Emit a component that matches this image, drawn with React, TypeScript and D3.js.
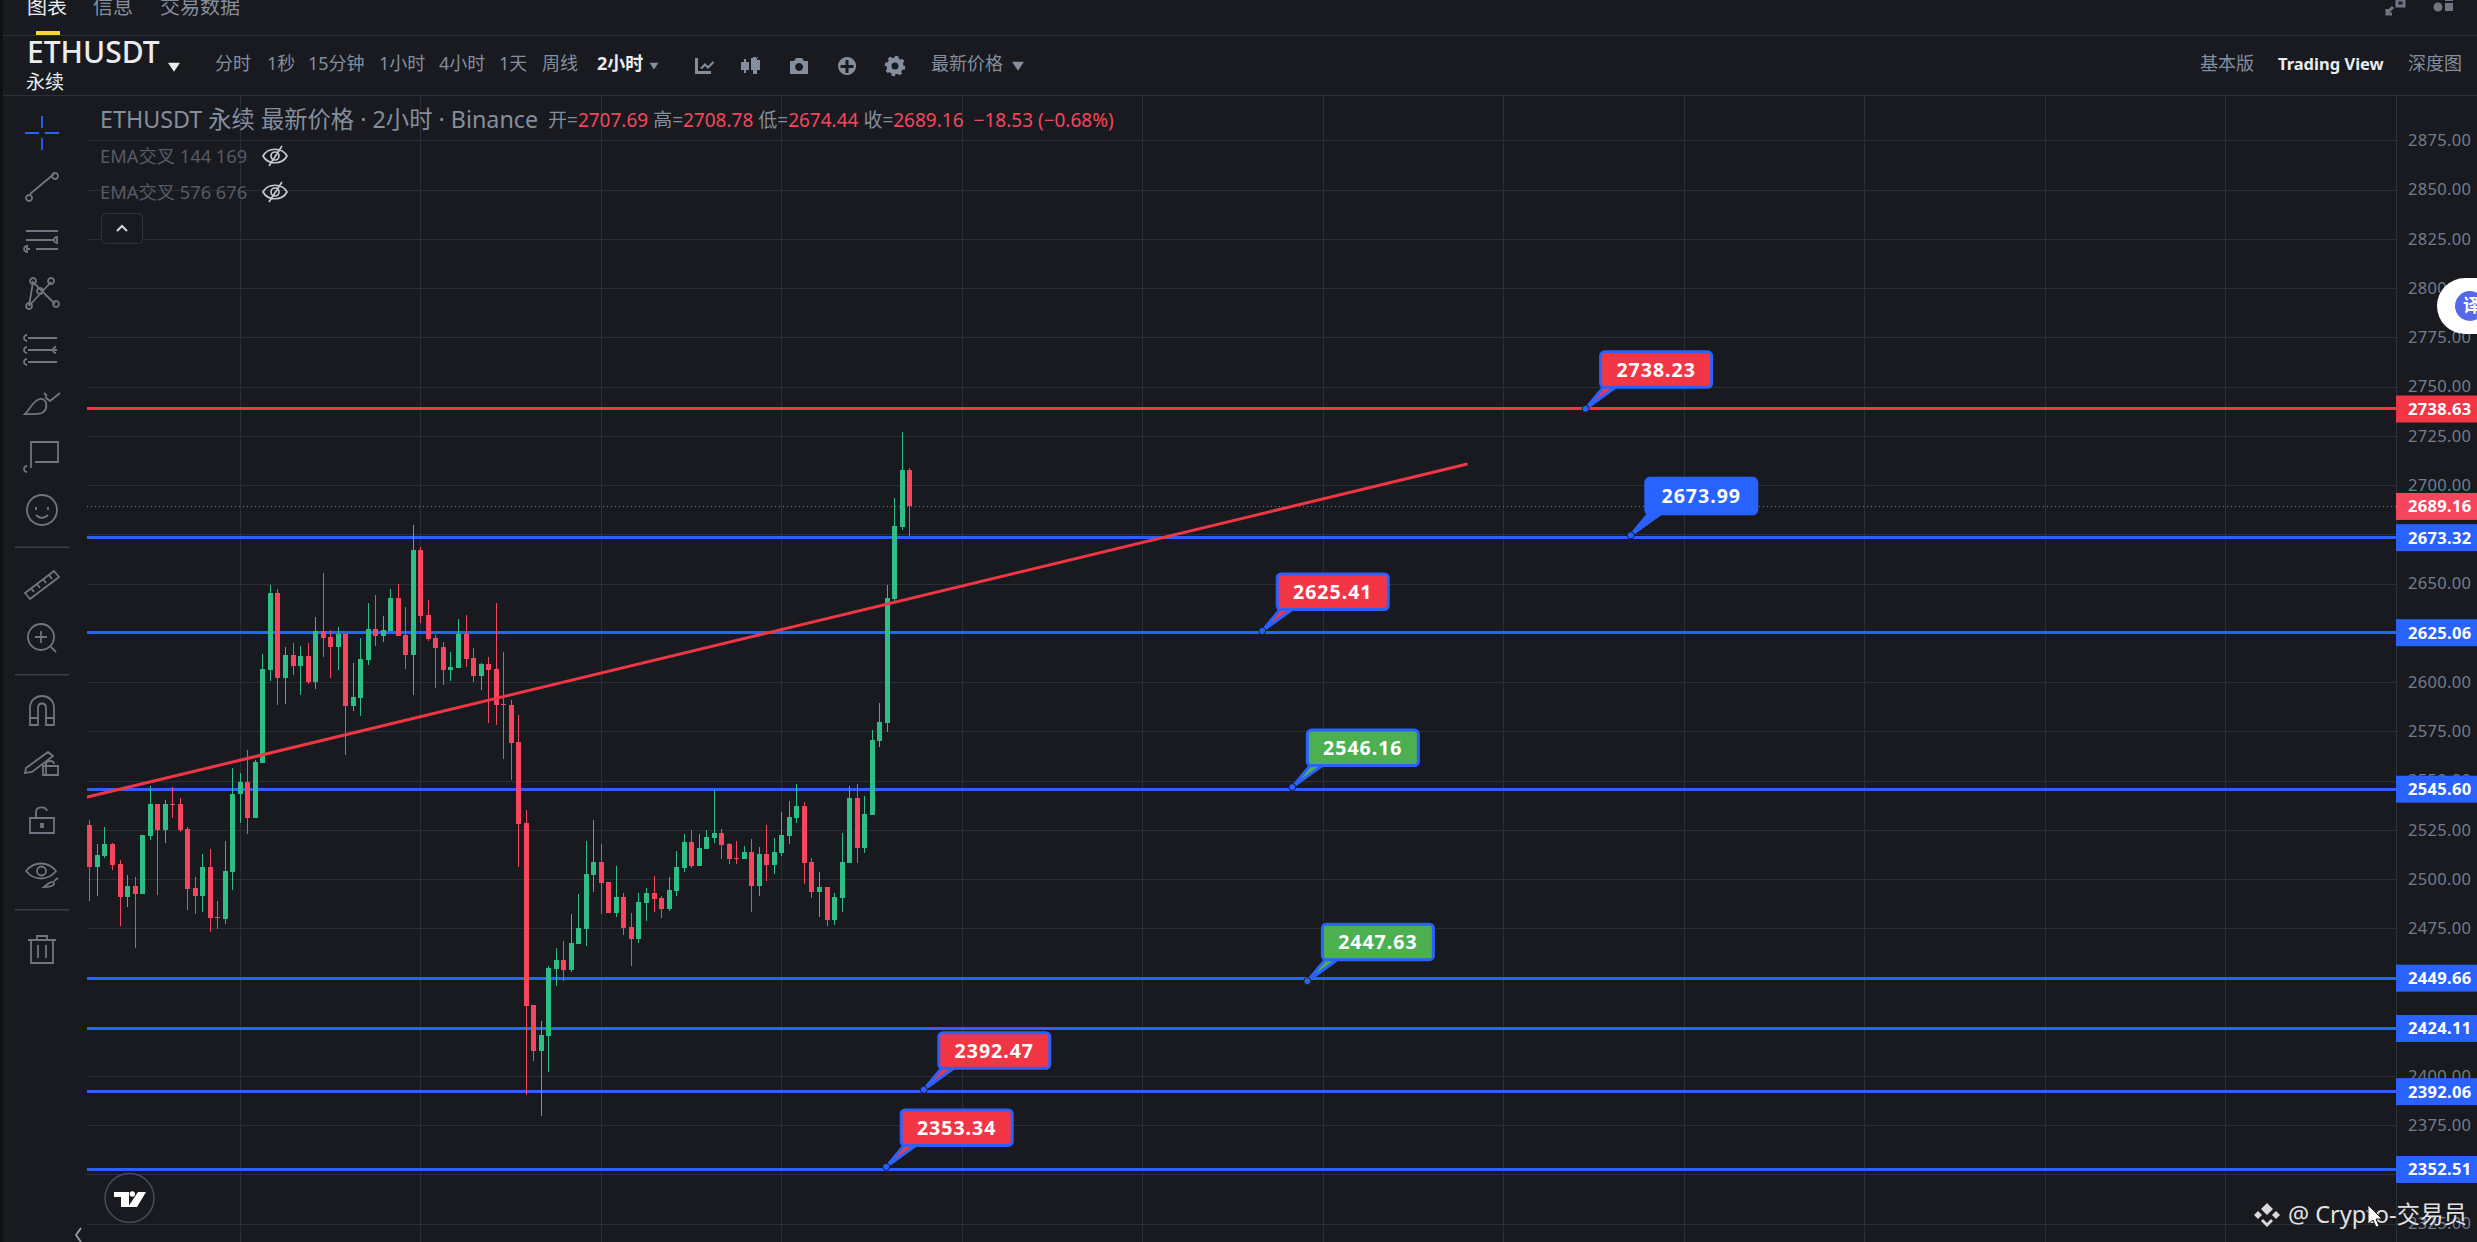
import { useRef, useEffect } from "react";
import { select, scaleLinear, axisRight, line } from "d3";

const WIDTH = 2477;
const HEIGHT = 1242;

// candles
const opens = [
  2527.42, 2506.27, 2511.68, 2517.77, 2507.62, 2491.04, 2496.45, 2492.56, 2522.01, 2538.08,
  2525.05, 2538.08, 2538.08, 2525.39, 2495.44, 2491.54, 2506.1, 2480.71, 2479.87, 2503.73,
  2543.33, 2549.25, 2531.14, 2559.07, 2606.28, 2645.2, 2602.22, 2613.73, 2608.31, 2613.22,
  2600.19, 2625.91, 2622.87, 2617.96, 2624.39, 2588.01, 2592.07, 2611.36, 2626.93, 2623.54,
  2626.08, 2642.67, 2623.88, 2613.9, 2667.04, 2634.03, 2622.36, 2617.79, 2606.28, 2607.3,
  2624.39, 2612.21, 2603.24, 2609.16, 2606.62, 2588.85, 2588.34, 2569.56, 2528.43, 2436.03,
  2412.85, 2420.47, 2454.31, 2458.88, 2453.8, 2467.17, 2474.62, 2502.03, 2508.63, 2498.48,
  2482.74, 2490.87, 2475.63, 2469.54, 2487.99, 2492.9, 2490.36, 2484.77, 2493.91, 2505.76,
  2518.79, 2506.6, 2515.4, 2520.82, 2523.36, 2517.77, 2510.67, 2510.16, 2513.71, 2496.45,
  2512.7, 2507.11, 2513.2, 2521.83, 2530.97, 2537.06, 2508.63, 2493.4, 2495.94, 2479.19,
  2490.36, 2508.13, 2541.13, 2515.74, 2532.5, 2570.07, 2579.38, 2642.17, 2678.72, 2707.69,
];
const closes = [
  2506.27, 2512.19, 2517.77, 2507.11, 2491.04, 2496.45, 2492.56, 2522.34, 2538.08, 2525.05,
  2538.08, 2537.57, 2525.05, 2495.1, 2491.54, 2506.1, 2480.37, 2480.21, 2504.07, 2543.16,
  2549.25, 2531.14, 2559.41, 2606.62, 2645.2, 2602.22, 2613.73, 2608.31, 2613.22, 2600.19,
  2625.91, 2622.53, 2617.96, 2624.39, 2588.01, 2592.41, 2611.7, 2626.93, 2623.54, 2626.42,
  2642.67, 2623.54, 2613.9, 2667.04, 2633.7, 2622.02, 2617.45, 2606.28, 2607.64, 2624.39,
  2611.87, 2603.24, 2609.16, 2606.28, 2588.51, 2588.34, 2569.22, 2528.1, 2435.7, 2412.85,
  2420.8, 2454.82, 2458.88, 2453.8, 2467.51, 2475.13, 2502.54, 2508.63, 2498.14, 2482.91,
  2490.87, 2475.13, 2469.54, 2488.33, 2492.9, 2489.85, 2484.77, 2494.42, 2506.1, 2518.79,
  2506.6, 2515.74, 2521.33, 2523.36, 2517.26, 2510.16, 2510.16, 2513.71, 2496.45, 2512.7,
  2507.11, 2513.71, 2522.34, 2531.48, 2537.06, 2508.13, 2493.4, 2495.94, 2479.19, 2490.87,
  2508.63, 2541.13, 2515.74, 2533.0, 2570.57, 2579.72, 2642.67, 2679.23, 2707.66, 2689.16,
];
const highs = [
  2529.96, 2517.77, 2526.41, 2518.28, 2509.65, 2502.04, 2501.02, 2522.34, 2547.22, 2538.08,
  2540.11, 2546.71, 2541.13, 2526.41, 2501.02, 2512.7, 2515.24, 2488.84, 2519.3, 2556.36,
  2553.82, 2565.5, 2560.42, 2614.24, 2649.27, 2647.24, 2617.79, 2619.82, 2618.3, 2619.82,
  2633.02, 2655.36, 2626.42, 2627.94, 2624.39, 2609.67, 2622.36, 2640.13, 2644.19, 2633.53,
  2647.24, 2649.77, 2638.1, 2679.73, 2668.56, 2641.65, 2623.88, 2620.33, 2615.25, 2632.01,
  2634.04, 2617.28, 2609.67, 2612.71, 2640.13, 2615.08, 2590.88, 2583.26, 2535.03, 2436.03,
  2427.91, 2455.83, 2464.97, 2468.53, 2482.23, 2492.39, 2519.3, 2529.96, 2517.77, 2498.48,
  2506.6, 2492.9, 2482.74, 2492.9, 2495.43, 2501.53, 2491.37, 2501.02, 2514.22, 2522.85,
  2524.88, 2522.85, 2524.88, 2545.19, 2525.39, 2518.28, 2519.3, 2516.76, 2520.31, 2516.25,
  2527.42, 2520.82, 2534.02, 2539.6, 2548.23, 2539.1, 2510.67, 2503.56, 2495.94, 2492.9,
  2523.36, 2547.22, 2548.23, 2542.14, 2575.65, 2589.37, 2649.27, 2693.44, 2726.95, 2708.78,
];
const lows = [
  2489.01, 2491.54, 2510.67, 2504.57, 2476.32, 2485.96, 2465.14, 2492.56, 2519.97, 2492.05,
  2518.45, 2531.14, 2524.04, 2484.44, 2482.41, 2483.42, 2473.27, 2474.79, 2477.33, 2494.59,
  2528.61, 2523.02, 2531.14, 2559.07, 2600.7, 2588.51, 2589.02, 2603.74, 2593.59, 2599.17,
  2596.64, 2612.88, 2602.22, 2606.28, 2563.13, 2585.47, 2582.93, 2608.82, 2618.47, 2620.5,
  2626.08, 2623.54, 2606.79, 2593.59, 2630.14, 2621.01, 2597.14, 2598.67, 2600.7, 2607.3,
  2607.81, 2600.19, 2596.13, 2579.37, 2578.36, 2560.59, 2550.43, 2506.26, 2390.51, 2407.77,
  2379.85, 2402.19, 2445.85, 2448.39, 2452.96, 2467.17, 2466.16, 2493.57, 2482.4, 2482.91,
  2480.88, 2471.74, 2456.0, 2467.68, 2478.85, 2483.42, 2480.37, 2483.93, 2491.54, 2503.73,
  2505.76, 2506.6, 2515.4, 2518.28, 2510.33, 2507.79, 2507.79, 2510.16, 2483.42, 2491.54,
  2499.16, 2502.71, 2511.85, 2517.94, 2528.6, 2497.63, 2490.53, 2480.88, 2476.31, 2476.82,
  2483.42, 2508.13, 2508.3, 2513.37, 2532.5, 2567.2, 2574.81, 2641.32, 2677.2, 2674.44,
];

const priceTicks = [
  2875, 2850, 2825, 2800, 2775, 2750, 2725, 2700, 2675, 2650, 2625, 2600, 2575, 2550, 2525, 2500,
  2475, 2450, 2425, 2400, 2375, 2350, 2325,
];
const hiddenTickLabels = [2675, 2625, 2450, 2425, 2350];
const timeGridBars = [20, 44, 68, 92, 116, 140, 164, 188, 212, 236, 260, 284];

// horizontal levels drawn on the chart
const blueLevels = [2673.32, 2625.06, 2545.6, 2449.66, 2424.11, 2392.06, 2352.51];
const redLevel = 2738.63;
const lastPrice = 2689.16;

// trend line: bar index / price at both ends
const trendBars = [-0.35, 183];
const trendPrices = [2541.6, 2710.55];

// callouts
const calloutValues = [2738.23, 2673.99, 2625.41, 2546.16, 2447.63, 2392.47, 2353.34];
const calloutBars = [199, 205, 156, 160, 162, 111, 106];
const calloutKinds = ["red", "blue", "red", "green", "green", "red", "red"];

const intervalLabels = ["分时", "1秒", "15分钟", "1小时", "4小时", "1天", "周线"];
const intervalX = [215, 267, 308, 379, 439, 499, 542];

const ohlcLabels = ["开=", " 高=", " 低=", " 收="];
const ohlcValues = ["2707.69", "2708.78", "2674.44", "2689.16"];

const BG = "#181a20";
const GRID = "#2a2e35";
const GREEN = "#2ebd85";
const RED = "#f6465d";
const LINE_RED = "#f23645";
const BLUE = "#2962ff";
const GREY = "#848e9c";
const ICON = "#6f7681";
const FONT = "'Noto Sans', 'Noto Sans CJK SC', sans-serif";

const PLOT_LEFT = 87;
const PLOT_RIGHT = 2396;
const PLOT_TOP = 95;

// sidebar tool icons, each around 0,0
const sidebarIcons = [
  { y: 133, d: "M-17 0H-3M3 0H17M0 -17V-5M0 5V17", stroke: BLUE },
  { y: 184, d: "M-12 10L12 -10M-13 11a3 3 0 1 0 .1 0M13 -11a3 3 0 1 0 .1 0" },
  { y: 240, d: "M-16 -9H16M-16 0H12M-16 9H-12M-6 9H16M15 -3a3 3 0 1 0 .1 6zM-15 6a3 3 0 1 0 .1 6z" },
  { y: 292, d: "M-13 14L-9 -10L13 12M9 -10L-13 14M-9 -14a3 3 0 1 0 .1 0M9 -14a3 3 0 1 0 .1 0M-13 11a3 3 0 1 0 .1 0M14 9a3 3 0 1 0 .1 0M-2 -4a3 3 0 1 0 .1 0" },
  { y: 350, d: "M-14 -12H15M-14 0H15M-14 12H15M-15 -15a3 3 0 1 0 .1 6M-15 -3a3 3 0 1 0 .1 6M-15 9a3 3 0 1 0 .1 6M14 -3a3 3 0 1 0 .1 6" },
  { y: 401, d: "M-17 13C-12 9 -10 0 -2 -2C6 -3 6 9 0 12C-6 14 -12 13 -17 13zM3 -4L8 0L18 -8M2 -8L5 -5" },
  { y: 456, d: "M-11 12V-14H16V6H-7M-15 10a3 3 0 1 0 .1 6" },
  { y: 510, d: "M-15 0a15 15 0 1 0 30 0a15 15 0 1 0 -30 0M-6 -3v3M6 -3v3M-6 5C-2 9 2 9 6 5" },
  { y: 584, d: "M-17 9L12 -13L17 -7L-12 15zM-11 4l3 4M-5 0l3 4M1 -5l3 4M7 -9l3 4" },
  { y: 637, d: "M-14 0a13 13 0 1 0 26 0a13 13 0 1 0 -26 0M-7 0H5M-1 -6V6M9 10L14 15" },
  { y: 710, d: "M-12 15V-2C-12 -18 12 -18 12 -2V15H4V-2C4 -8 -4 -8 -4 -2V15zM-12 8H-4M4 8H12" },
  { y: 760, d: "M-16 8L6 -8L11 -4L-10 12L-17 13zM4 14V4C4 0 12 0 12 4M1 6H16V15H1z" },
  { y: 820, d: "M-12 -2H12V13H-12zM-6 -2V-8C-6 -14 4 -14 5 -9M-1 4h2v3h-2z" },
  { y: 872, d: "M-16 -1C-8 -11 6 -11 14 -1C6 9 -8 9 -16 -1zM-5 -1a4.5 4.5 0 1 0 9 0a4.5 4.5 0 1 0 -9 0M2 15C6 12 8 9 11 10C14 12 11 15 2 15zM12 9L16 6" },
  { y: 950, d: "M-14 -10H14M-5 -10V-14H5V-10M-11 -10V13H11V-10M-4 -5V8M4 -5V8" },
];
const sidebarSeparators = [546.5, 674, 909];

export default function App() {
  const ref = useRef<SVGSVGElement | null>(null);

  useEffect(() => {
    const svg = select(ref.current!);
    svg.selectAll("*").remove();

    // scales
    const xScale = scaleLinear().domain([0, 284]).range([89.95, 2225.94]);
    const yScale = scaleLinear().domain([2875, 2325]).range([140.4, 1223.7]);
    const bars = opens.map((o, i) => ({ o, c: closes[i], h: highs[i], l: lows[i], i }));

    svg.append("rect").attr("width", WIDTH).attr("height", HEIGHT).attr("fill", BG);
    svg.append("rect").attr("width", 3).attr("height", HEIGHT).attr("fill", "#0f1115");

    svg
      .append("defs")
      .append("clipPath")
      .attr("id", "plot")
      .append("rect")
      .attr("x", PLOT_LEFT)
      .attr("y", PLOT_TOP)
      .attr("width", PLOT_RIGHT - PLOT_LEFT)
      .attr("height", HEIGHT - PLOT_TOP);

    const plot = svg.append("g").attr("clip-path", "url(#plot)").attr("shape-rendering", "crispEdges");

    // grid
    plot
      .selectAll(".h-grid")
      .data(priceTicks)
      .join("line")
      .attr("x1", PLOT_LEFT)
      .attr("x2", PLOT_RIGHT)
      .attr("y1", (d) => Math.round(yScale(d)) + 0.5)
      .attr("y2", (d) => Math.round(yScale(d)) + 0.5)
      .attr("stroke", GRID);
    plot
      .selectAll(".v-grid")
      .data(timeGridBars)
      .join("line")
      .attr("x1", (d) => Math.floor(xScale(d)) + 0.5)
      .attr("x2", (d) => Math.floor(xScale(d)) + 0.5)
      .attr("y1", PLOT_TOP)
      .attr("y2", HEIGHT)
      .attr("stroke", GRID);

    // price levels go under the candles
    plot
      .selectAll(".level")
      .data(blueLevels)
      .join("rect")
      .attr("x", PLOT_LEFT)
      .attr("width", PLOT_RIGHT - PLOT_LEFT)
      .attr("y", (d) => Math.floor(yScale(d)) - 1)
      .attr("height", 3)
      .attr("fill", BLUE);
    plot
      .append("rect")
      .attr("x", PLOT_LEFT)
      .attr("width", PLOT_RIGHT - PLOT_LEFT)
      .attr("y", Math.floor(yScale(redLevel)) - 1)
      .attr("height", 3)
      .attr("fill", LINE_RED);
    plot
      .append("line")
      .attr("x1", PLOT_LEFT)
      .attr("x2", PLOT_RIGHT)
      .attr("y1", Math.round(yScale(lastPrice)) + 0.5)
      .attr("y2", Math.round(yScale(lastPrice)) + 0.5)
      .attr("stroke", RED)
      .attr("stroke-dasharray", "1 3");

    // candles
    const color = (d: { o: number; c: number }) => (d.c >= d.o ? GREEN : RED);
    plot
      .selectAll(".wick")
      .data(bars)
      .join("rect")
      .attr("x", (d) => Math.floor(xScale(d.i)))
      .attr("width", 1)
      .attr("y", (d) => Math.round(yScale(d.h)))
      .attr("height", (d) => Math.max(1, yScale(d.l) - yScale(d.h)))
      .attr("fill", color);
    plot
      .selectAll(".body")
      .data(bars)
      .join("rect")
      .attr("x", (d) => Math.floor(xScale(d.i)) - 2)
      .attr("width", 5)
      .attr("y", (d) => Math.round(yScale(Math.max(d.o, d.c))))
      .attr("height", (d) => Math.max(1, Math.round(Math.abs(yScale(d.o) - yScale(d.c)))))
      .attr("fill", color);

    // trend line
    const trend = line<number>()
      .x((d) => xScale(d))
      .y((_, i) => yScale(trendPrices[i]));
    svg
      .append("g")
      .attr("clip-path", "url(#plot)")
      .append("path")
      .attr("d", trend(trendBars))
      .attr("fill", "none")
      .attr("stroke", LINE_RED)
      .attr("stroke-width", 3)
      .attr("stroke-linecap", "round");

    // price axis
    svg
      .append("line")
      .attr("x1", PLOT_RIGHT + 0.5)
      .attr("x2", PLOT_RIGHT + 0.5)
      .attr("y1", PLOT_TOP)
      .attr("y2", HEIGHT)
      .attr("stroke", "#2b3139");
    const yAxis: any = axisRight(yScale)
      .tickValues(priceTicks.filter((t) => !hiddenTickLabels.includes(t)))
      .tickSize(0)
      .tickPadding(12)
      .tickFormat((d: any) => d.toFixed(2));
    const axisG = svg.append("g").attr("transform", `translate(${PLOT_RIGHT},0)`).call(yAxis);
    axisG.select(".domain").remove();
    axisG
      .selectAll("text")
      .attr("fill", GREY)
      .attr("opacity", 0.85)
      .attr("font-family", FONT)
      .attr("font-size", 16.5)
      .attr("letter-spacing", 0.3);

    // price tags on the axis
    const tags = [
      { p: redLevel, fill: LINE_RED },
      { p: lastPrice, fill: RED },
      ...blueLevels.map((p) => ({ p, fill: BLUE })),
    ];
    const tagG = svg.selectAll(".tag").data(tags).join("g");
    tagG
      .append("rect")
      .attr("x", PLOT_RIGHT)
      .attr("width", WIDTH - PLOT_RIGHT)
      .attr("y", (d) => yScale(d.p) - 13.5)
      .attr("height", 27)
      .attr("fill", (d) => d.fill);
    tagG
      .append("text")
      .attr("x", PLOT_RIGHT + 12)
      .attr("y", (d) => yScale(d.p))
      .attr("dy", "0.36em")
      .attr("fill", "#fff")
      .attr("font-family", FONT)
      .attr("font-weight", 700)
      .attr("font-size", 16.5)
      .attr("letter-spacing", 0.3)
      .text((d) => d.p.toFixed(2));

    // callouts
    const kindColor: Record<string, string> = { red: LINE_RED, blue: BLUE, green: "#4caf50" };
    calloutValues.forEach((v, i) => {
      const ax = xScale(calloutBars[i]);
      const ay = yScale(v);
      const fill = kindColor[calloutKinds[i]];
      const g = svg.append("g");
      g.append("path")
        .attr("d", `M${ax - 1},${ay - 1}L${ax + 18},${ay - 24}L${ax + 31},${ay - 24}Z`)
        .attr("fill", fill)
        .attr("stroke", BLUE)
        .attr("stroke-width", 3)
        .attr("stroke-linejoin", "round");
      g.append("circle").attr("cx", ax - 1).attr("cy", ay - 1).attr("r", 3.5).attr("fill", BLUE).attr("stroke", BG);
      g.append("rect")
        .attr("x", ax + 14)
        .attr("y", ay - 58)
        .attr("width", 111)
        .attr("height", 35.5)
        .attr("rx", 4)
        .attr("fill", fill)
        .attr("stroke", BLUE)
        .attr("stroke-width", 3);
      g.append("text")
        .attr("x", ax + 69.5)
        .attr("y", ay - 40)
        .attr("dy", "0.36em")
        .attr("text-anchor", "middle")
        .attr("fill", "#fff")
        .attr("font-family", FONT)
        .attr("font-weight", 700)
        .attr("font-size", 19.5)
        .attr("letter-spacing", 1)
        .text(v.toFixed(2));
    });

    // header bars
    [35, 95].forEach((y) =>
      svg.append("rect").attr("x", 3).attr("y", y).attr("width", WIDTH).attr("height", 1).attr("fill", "#2b3139")
    );
    svg.append("rect").attr("x", 36).attr("y", 31).attr("width", 24).attr("height", 4).attr("fill", "#fcd535");

    const label = (
      s: string,
      x: number,
      y: number,
      size: number,
      fill: string,
      weight: number = 400,
      family: string = FONT
    ) =>
      svg
        .append("text")
        .attr("x", x)
        .attr("y", y)
        .attr("dy", "0.36em")
        .attr("fill", fill)
        .attr("font-size", size)
        .attr("font-weight", weight)
        .attr("font-family", family)
        .text(s);

    label("图表", 27, 7, 20, "#eaecef");
    label("信息", 93, 7, 20, GREY);
    label("交易数据", 160, 7, 20, GREY);

    label("ETHUSDT", 27, 52, 30, "#eaecef", 500);
    label("永续", 26, 82, 19, "#eaecef");
    intervalLabels.forEach((s, i) => label(s, intervalX[i], 64, 18, GREY));
    label("2小时", 597, 64, 18, "#eaecef", 700);
    label("最新价格", 931, 64, 18, GREY);
    label("基本版", 2200, 64, 18, GREY);
    label("Trading View", 2278, 64, 16.5, "#eaecef", 700);
    label("深度图", 2408, 64, 18, GREY);

    // small carets
    [
      { x: 174, y: 67, s: 6, c: "#eaecef" },
      { x: 654, y: 66, s: 4.5, c: GREY },
      { x: 1018, y: 66, s: 6, c: GREY },
    ].forEach((t) =>
      svg
        .append("path")
        .attr("d", `M${t.x - t.s},${t.y - t.s * 0.7}H${t.x + t.s}L${t.x},${t.y + t.s * 0.8}Z`)
        .attr("fill", t.c)
    );

    // toolbar icons
    const tb = svg.append("g").attr("fill", "#848e9c");
    tb.append("path")
      .attr("d", "M695 58h3v13h13v3h-16zM700 68l5-5 3 3 5-5 1 2-6 6-3-3-3 3z");
    tb.append("path")
      .attr("d", "M741 62h3v-3h2v3h3v8h-3v3h-2v-3h-3zM751 58h2v-1h3v1h2v-1h-1v3h3v10h-3v4h-4v-4h-2z");
    tb.append("path")
      .attr("d", "M790 61h4l2-3h6l2 3h4v13h-18zM799 63a4 4 0 1 0 .1 0z")
      .attr("fill-rule", "evenodd");
    tb.append("path")
      .attr("d", "M847 57a9 9 0 1 0 .1 0zM845.500 60h3v5h5v3h-5v5h-3v-5h-5v-3h5z")
      .attr("fill-rule", "evenodd");
    tb.append("circle").attr("cx", 895).attr("cy", 66).attr("r", 6).attr("fill", "none").attr("stroke", "#848e9c").attr("stroke-width", 5);
    tb.append("circle").attr("cx", 895).attr("cy", 66).attr("r", 9).attr("fill", "none").attr("stroke", "#848e9c").attr("stroke-width", 2.5).attr("stroke-dasharray", "3.5 3.5");

    // top right
    svg.append("path").attr("d", "M2387 13l6-6M2387 9v5h5M2397 6h7v-6h-7z").attr("stroke", ICON).attr("stroke-width", 3).attr("fill", "none");
    svg.append("circle").attr("cx", 2438).attr("cy", 7).attr("r", 4.500).attr("fill", ICON);
    svg.append("rect").attr("x", 2445).attr("y", 3).attr("width", 8).attr("height", 8).attr("fill", ICON);
    svg.append("rect").attr("x", 2435).attr("y", -4).attr("width", 6).attr("height", 4).attr("fill", ICON);
    svg.append("rect").attr("x", 2445).attr("y", -4).attr("width", 8).attr("height", 5).attr("fill", ICON);

    // legend
    label("ETHUSDT 永续 最新价格 · 2小时 · Binance", 100, 120, 23.3, GREY);
    const ohlc = label("", 548, 120, 19, GREY);
    ohlcLabels.forEach((s, i) => {
      ohlc.append("tspan").attr("fill", GREY).attr("xml:space", "preserve").text(s);
      ohlc.append("tspan").attr("fill", RED).text(ohlcValues[i]);
    });
    ohlc.append("tspan").attr("fill", RED).attr("dx", 10).text("−18.53 (−0.68%)");

    label("EMA交叉 144 169", 100, 156, 18.3, "#565c66");
    label("EMA交叉 576 676", 100, 192, 18.3, "#565c66");
    [156, 192].forEach((y) => {
      svg
        .append("path")
        .attr(
          "d",
          `M263 ${y}C268 ${y - 9} 282 ${y - 9} 287 ${y}C282 ${y + 9} 268 ${y + 9} 263 ${y}zM271 ${y}a4 4 0 1 0 8 0a4 4 0 1 0 -8 0M269 ${y + 10}L282 ${y - 10}`
        )
        .attr("fill", "none")
        .attr("stroke", "#c5c8ce")
        .attr("stroke-width", 1.7);
    });
    svg
      .append("rect")
      .attr("x", 101.500)
      .attr("y", 213.500)
      .attr("width", 41)
      .attr("height", 30)
      .attr("rx", 4)
      .attr("fill", BG)
      .attr("stroke", "#2f343c");
    svg.append("path").attr("d", "M117 231l5-5 5 5").attr("fill", "none").attr("stroke", "#d5d8dc").attr("stroke-width", 2);

    // sidebar
    sidebarIcons.forEach((ic) => {
      svg
        .append("path")
        .attr("transform", `translate(42,${ic.y})`)
        .attr("d", ic.d)
        .attr("fill", "none")
        .attr("stroke", ic.stroke ?? ICON)
        .attr("stroke-width", 1.8);
    });
    sidebarSeparators.forEach((y) =>
      svg.append("rect").attr("x", 15).attr("y", y).attr("width", 54).attr("height", 1.5).attr("fill", "#3a3f47")
    );
    svg.append("path").attr("d", "M81 1228l-5 7 5 7").attr("fill", "none").attr("stroke", "#9aa0a8").attr("stroke-width", 1.8);

    // tradingview badge
    svg.append("circle").attr("cx", 129.500).attr("cy", 1198).attr("r", 24.500).attr("fill", BG).attr("stroke", "#474c57").attr("stroke-width", 1.5);
    svg.append("path").attr("d", "M114 1192h15v15h-8v-10h-7zM138 1192h8l-9 15h-9z").attr("fill", "#fff");
    svg.append("circle").attr("cx", 132.300).attr("cy", 1194).attr("r", 2.700).attr("fill", "#fff");

    // translate bubble
    svg.append("path").attr("d", "M2477 278h-12a28 28 0 0 0 0 56h12z").attr("fill", "#fff");
    svg.append("circle").attr("cx", 2470).attr("cy", 306).attr("r", 15).attr("fill", "#5469e8");
    label("译", 2463, 306, 18, "#fff", 700);

    // watermark
    svg
      .append("path")
      .attr("d", "M2267 1203l6 6-6 6-6-6zM2254 1215l4-4 4 4-4 4zM2280 1215l-4-4-4 4 4 4zM2267 1227l-6-6 2-2 4 4 4-4 2 2z")
      .attr("fill", "#d8d8d8");
    label("@ Crypto-交易员", 2288, 1215, 23.5, "#e2e2e2");
    svg.append("path").attr("d", "M2368 1205v19l5-4 3 7 3-1-3-7h6z").attr("fill", "#fff").attr("stroke", "#222");
  }, []);

  return (
    <svg
      ref={ref}
      width={WIDTH}
      height={HEIGHT}
      style={{ position: "fixed", left: 0, top: 0, display: "block" }}
    ></svg>
  );
}
